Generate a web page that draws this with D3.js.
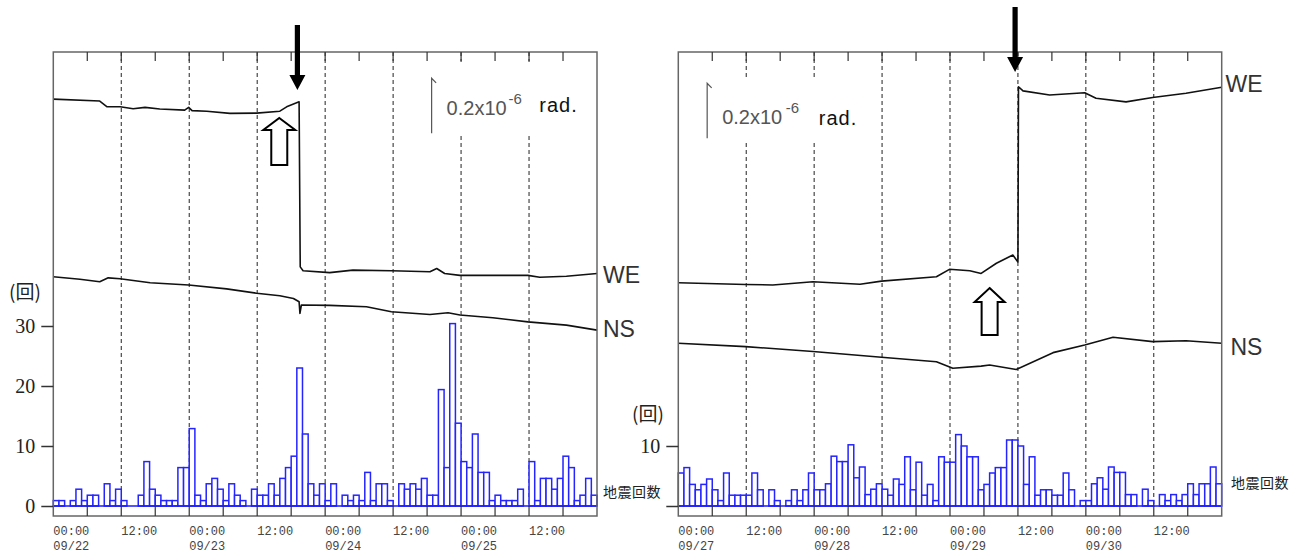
<!DOCTYPE html>
<html>
<head>
<meta charset="utf-8">
<script src="https://cdn.jsdelivr.net/npm/d3@7"></script>
<style>
  body { margin: 0; background: #fff; }
</style>
</head>
<body>
<svg id="chart" width="1301" height="556"></svg>
<script>
// hourly earthquake counts (read in axis units)
const leftCounts = [
  0.9, 0.9, 0, 0.9, 2.8, 0.9, 1.8, 1.8, 0, 3.7, 0.9, 2.8,
  0.9, 0, 0, 1.8, 7.4, 2.8, 1.8, 0.9, 0.9, 0.9, 6.4, 6.4,
  12.9, 1.8, 0.9, 3.7, 4.6, 2.8, 0.9, 3.7, 1.8, 0.9, 0, 2.8,
  1.8, 1.8, 3.7, 1.8, 4.6, 6.4, 8.3, 23, 12, 3.7, 1.8, 3.7,
  0.9, 3.7, 0, 1.8, 0.9, 1.8, 0.9, 5.6, 0.9, 3.7, 3.7, 0.9,
  0, 3.7, 2.8, 3.7, 2.8, 4.6, 1.8, 1.8, 19.4, 6.4, 30.4, 13.8,
  7.4, 6.4, 12, 5.6, 5.6, 0.9, 1.8, 0.9, 0.9, 0.9, 2.8, 0,
  7.4, 0.9, 4.6, 4.6, 2.8, 4.6, 8.3, 6.4, 0.9, 1.8, 4.6, 1.8
];
const rightCounts = [
  5.5, 6.4, 3.6, 2.7, 3.6, 4.5, 2.7, 0.9, 5.5, 1.8, 1.8, 1.8,
  1.8, 5.5, 2.7, 0, 2.7, 0.9, 0, 0.9, 2.7, 0.9, 2.7, 5.5,
  2.7, 2.7, 3.7, 8.3, 7.4, 7.4, 10.2, 4.7, 6.5, 1.9, 2.8, 3.7,
  2.8, 1.8, 4.5, 3.6, 8.2, 2.7, 7.3, 1.8, 3.6, 0.9, 8.2, 7.3,
  7.3, 11.9, 10, 8.2, 8.2, 2.7, 3.6, 5.5, 6.4, 6.4, 11, 11,
  10, 3.6, 8.2, 1.8, 2.7, 2.7, 1.8, 1.8, 5.5, 2.7, 0, 0.9,
  0.9, 3.7, 4.7, 2.8, 6.5, 5.6, 5.6, 1.9, 1.9, 0, 2.8, 0.9,
  0, 1.9, 0.9, 1.9, 0.9, 1.9, 3.7, 1.9, 3.7, 3.7, 6.5, 3.7
];

// tilt traces: [hours from start, tilt in 1e-8 rad relative to start]
const leftWE = [
  [0, 0], [8.2, -0.7], [9.5, -2.8], [11.8, -2.8], [14.1, -3.5], [16.2, -3.0],
  [18.8, -3.6], [23.2, -4.0], [23.9, -3.0], [24.5, -4.2], [27.1, -4.4],
  [31.2, -5.2], [35.9, -5.1], [40.0, -4.4], [41.2, -2.8], [43.4, -1.0],
  [43.6, -61.0], [44.1, -62.4], [48.8, -63.1], [52.9, -62.2], [59.7, -62.4],
  [66.5, -62.8], [67.7, -61.6], [69.1, -63.4], [71.8, -64.1], [77.6, -64.1],
  [83.8, -64.1], [85.9, -64.8], [90.6, -64.4], [96, -63.4]
];
const leftNS = [
  [0, 0], [4.7, -0.9], [8.2, -1.8], [9.7, -0.4], [11.8, -0.7], [17.1, -2.2],
  [23.9, -3.0], [30.6, -4.4], [35.9, -6.0], [40.0, -6.9], [42.4, -7.9],
  [43.4, -9.1], [43.55, -13.3], [43.8, -10.3], [48.8, -10.4], [55.3, -10.9],
  [59.7, -12.7], [66.5, -13.7], [69.7, -13.1], [71.8, -13.9], [77.6, -14.9],
  [83.8, -16.4], [90.6, -17.6], [96, -19.4]
];
const rightWE = [
  [0, 0], [11.9, -0.6], [16.7, -0.8], [23.8, 0.4], [32.1, -0.5], [35.9, 0.6],
  [45.6, 2.2], [47.9, 4.9], [51.5, 4.4], [53.5, 3.4], [56.2, 7.1], [59.1, 10.1],
  [60.0, 7.6], [60.1, 71.3], [60.9, 69.8], [65.6, 68.3], [71.8, 69.1],
  [73.8, 67.1], [79.1, 65.8], [83.8, 67.4], [89.7, 68.9], [96, 71.1]
];
const rightNS = [
  [0, 0], [11.9, -1.2], [23.8, -3.0], [35.9, -5.1], [45.6, -6.7], [48.5, -9.1],
  [53.5, -8.3], [55.0, -7.9], [59.7, -9.5], [66.2, -3.4], [71.8, -0.6],
  [76.8, 2.2], [83.8, 0.6], [89.7, 0.9], [96, 0]
];

const tickHours = [0, 12, 24, 36, 48, 60, 72, 84];
const timeLabels = ["00:00", "12:00", "00:00", "12:00", "00:00", "12:00", "00:00", "12:00"];
const leftDates = ["09/22", "09/23", "09/24", "09/25"];
const rightDates = ["09/27", "09/28", "09/29", "09/30"];
const leftCountTicks = [0, 10, 20, 30];
const rightCountTicks = [0, 10];
const rightCountLabels = ["", "10"];

const svg = d3.select("#chart");
const plotTop = 52, plotBottom = 516, countBase = 506;

const yCount = d3.scaleLinear().domain([0, 30]).range([countBase, 326]);
// 0.2x10^-6 rad = 20 units = 55 px
const yTilt = d3.scaleLinear().domain([0, 20]).range([plotBottom, plotBottom - 55]);

const panels = [
  {
    x0: 53.3, x1: 597, counts: leftCounts, dates: leftDates,
    countTicks: leftCountTicks, countLabels: leftCountTicks.map(String),
    traces: [{ data: leftWE, offset: 151.6 }, { data: leftNS, offset: 87.0 }],
    names: [{ t: "WE", x: 603, y: 283 }, { t: "NS", x: 603, y: 337 }],
    quake: { x: 603, y: 497 }, unit: { x: 25, y: 299 },
    scale: { h: 66.8, top: 78.3, box: [425, 62, 167, 73], base: 115, sup: 62, rad: 92.6, radBase: 112 },
    down: { h: 43.1, top: 25, head: 75, tip: 90 },
    up: { h: 39.9, tip: 118, head: 130, bottom: 165, hw: 16 }
  },
  {
    x0: 678.3, x1: 1221.7, counts: rightCounts, dates: rightDates,
    countTicks: rightCountTicks, countLabels: rightCountLabels,
    traces: [{ data: rightWE, offset: 84.8 }, { data: rightNS, offset: 62.8 }],
    names: [{ t: "WE", x: 1225.5, y: 92 }, { t: "NS", x: 1230.5, y: 354.5 }],
    quake: { x: 1231, y: 488 }, unit: { x: 648, y: 421 },
    scale: { h: 5.1, top: 83.3, box: [700, 78, 162, 63], base: 124.3, sup: 63.5, rad: 96.6, radBase: 124.5 },
    down: { h: 59.5, top: 7, head: 57, tip: 72 },
    up: { h: 55, tip: 288, head: 302, bottom: 335, hw: 15 }
  }
];

panels.forEach(p => {
  const x = d3.scaleLinear().domain([0, 96]).range([p.x0, p.x1]);
  const g = svg.append("g");

  // dashed 12-hour grid
  g.selectAll(".grid").data(tickHours.filter(h => h > 0)).join("line")
    .attr("x1", d => x(d)).attr("x2", d => x(d))
    .attr("y1", plotTop).attr("y2", countBase)
    .attr("stroke", "#222").attr("stroke-width", 1)
    .attr("stroke-dasharray", "4,3");

  // scale bar for tilt
  const s = p.scale;
  g.append("rect").attr("x", s.box[0]).attr("y", s.box[1])
    .attr("width", s.box[2]).attr("height", s.box[3]).attr("fill", "#fff");
  const sx = x(s.h);
  g.append("path")
    .attr("d", `M${sx + 4.5},${s.top + 4.5}L${sx},${s.top}V${s.top + yTilt(0) - yTilt(20)}`)
    .attr("fill", "none").attr("stroke", "#555").attr("stroke-width", 1.2);
  const tx = sx + 15;
  g.append("text").attr("x", tx).attr("y", s.base)
    .attr("font-family", "Liberation Sans, Arial, sans-serif").attr("font-size", 20)
    .attr("fill", "#555").text("0.2x10");
  g.append("text").attr("x", tx + s.sup).attr("y", s.base - 11.5)
    .attr("font-family", "Liberation Sans, Arial, sans-serif").attr("font-size", 15)
    .attr("fill", "#555").text("-6");
  g.append("text").attr("x", tx + s.rad).attr("y", s.radBase)
    .attr("font-family", "Liberation Sans, Arial, sans-serif").attr("font-size", 20)
    .attr("letter-spacing", 1).attr("fill", "#111").text("rad.");

  // count histogram
  const bars = p.counts.map((v, i) => ({ i, v })).filter(d => d.v > 0);
  g.selectAll(".bar").data(bars).join("rect")
    .attr("x", d => x(d.i)).attr("width", d => x(d.i + 1) - x(d.i))
    .attr("y", d => yCount(d.v)).attr("height", d => countBase - yCount(d.v))
    .attr("fill", "#fff").attr("stroke", "#2424ff").attr("stroke-width", 1.5);
  g.append("line").attr("x1", p.x0).attr("x2", p.x1)
    .attr("y1", countBase).attr("y2", countBase)
    .attr("stroke", "#1a1aff").attr("stroke-width", 1.5);

  // tilt traces
  p.traces.forEach(tr => {
    const line = d3.line()
      .x(d => x(d[0]))
      .y(d => yTilt(tr.offset + d[1]));
    g.append("path").datum(tr.data).attr("d", line)
      .attr("fill", "none").attr("stroke", "#111").attr("stroke-width", 1.6)
      .attr("stroke-linejoin", "round");
  });

  // frame
  g.append("rect").attr("x", p.x0).attr("y", plotTop)
    .attr("width", p.x1 - p.x0).attr("height", plotBottom - plotTop)
    .attr("fill", "none").attr("stroke", "#666").attr("stroke-width", 1.5);

  // 6-hour ticks on top and bottom
  const sixHours = d3.range(6, 96, 6);
  g.selectAll(".ttick").data(sixHours).join("line")
    .attr("x1", d => x(d)).attr("x2", d => x(d))
    .attr("y1", plotTop).attr("y2", plotTop + 9)
    .attr("stroke", "#333").attr("stroke-width", 1.2);
  g.selectAll(".btick").data(sixHours).join("line")
    .attr("x1", d => x(d)).attr("x2", d => x(d))
    .attr("y1", countBase).attr("y2", plotBottom)
    .attr("stroke", "#333").attr("stroke-width", 1.2);

  // time labels
  tickHours.forEach((h, i) => {
    g.append("text").attr("x", x(h)).attr("y", 535)
      .attr("font-family", "Liberation Mono, monospace").attr("font-size", 13)
      .attr("textLength", 36).attr("lengthAdjust", "spacingAndGlyphs")
      .attr("fill", "#444").text(timeLabels[i]);
    if (h % 24 === 0) {
      g.append("text").attr("x", x(h)).attr("y", 550)
        .attr("font-family", "Liberation Mono, monospace").attr("font-size", 13)
        .attr("textLength", 36).attr("lengthAdjust", "spacingAndGlyphs")
        .attr("fill", "#444").text(p.dates[h / 24]);
    }
  });

  // count axis
  const axis = d3.axisLeft(yCount).tickValues(p.countTicks)
    .tickSize(12).tickPadding(6)
    .tickFormat((d, i) => p.countLabels[i]);
  const ag = g.append("g").attr("transform", `translate(${p.x0},0)`).call(axis);
  ag.select(".domain").remove();
  ag.selectAll(".tick line").attr("stroke", "#333").attr("stroke-width", 1.5);
  ag.selectAll(".tick text").attr("font-family", "Liberation Serif, Times New Roman, serif")
    .attr("font-size", 20).attr("fill", "#222").attr("dy", "0.33em");
  g.append("text").attr("x", p.unit.x).attr("y", p.unit.y).attr("text-anchor", "middle")
    .attr("font-family", "Noto Sans CJK JP, sans-serif").attr("font-size", 19)
    .attr("fill", "#222").text("(回)");

  // series names
  p.names.forEach(n => {
    g.append("text").attr("x", n.x).attr("y", n.y)
      .attr("font-family", "Liberation Sans, Arial, sans-serif").attr("font-size", 23)
      .attr("fill", "#333").text(n.t);
  });
  g.append("text").attr("x", p.quake.x).attr("y", p.quake.y)
    .attr("font-family", "Noto Sans CJK JP, sans-serif").attr("font-size", 14)
    .attr("letter-spacing", 0.5).attr("fill", "#222").text("地震回数");

  // arrows
  const dx = x(p.down.h), dn = p.down;
  g.append("path")
    .attr("d", `M${dx - 2.6},${dn.top}H${dx + 2.6}V${dn.head}H${dx + 8}L${dx},${dn.tip}L${dx - 8},${dn.head}H${dx - 2.6}Z`)
    .attr("fill", "#000");
  const ux = x(p.up.h), up = p.up;
  g.append("path")
    .attr("d", `M${ux},${up.tip}L${ux + up.hw},${up.head}H${ux + 8}V${up.bottom}H${ux - 8}V${up.head}H${ux - up.hw}Z`)
    .attr("fill", "#fff").attr("stroke", "#000").attr("stroke-width", 2)
    .attr("stroke-linejoin", "miter");
});
</script>
</body>
</html>
